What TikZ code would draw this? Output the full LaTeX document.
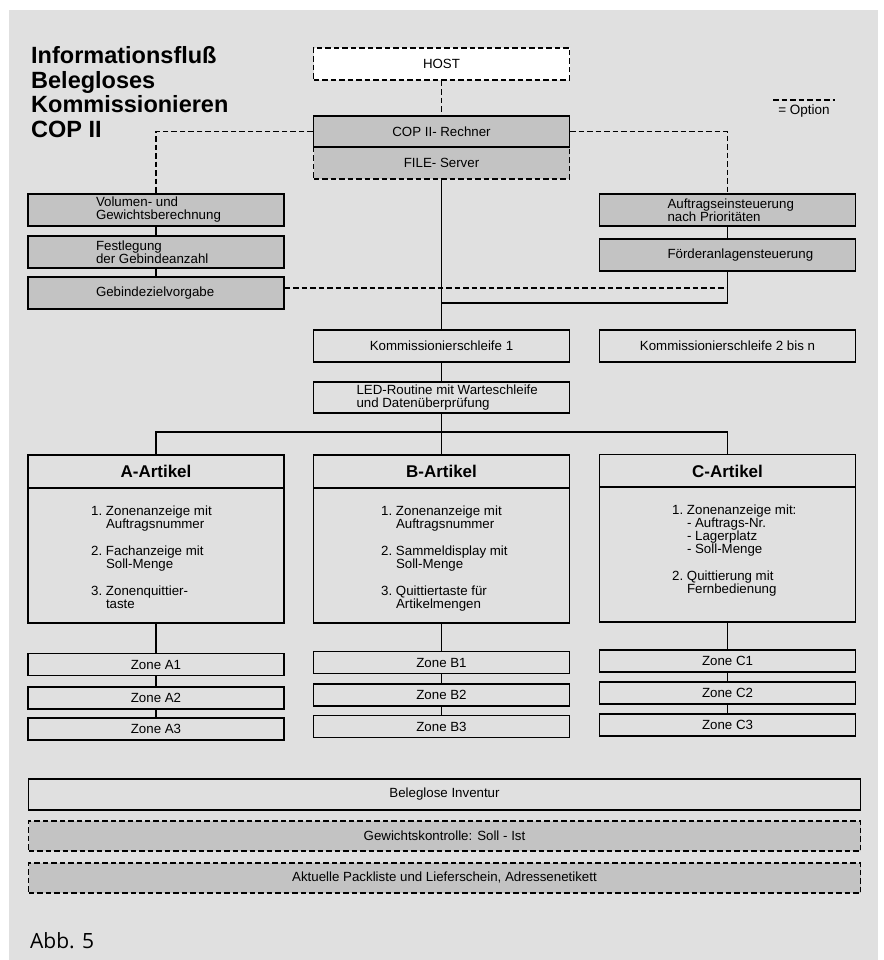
\documentclass[tikz,border=0pt]{standalone}
\usepackage{fontspec}
\setmainfont{Liberation Sans}
\newfontfamily\abbfont{Open Sans}
\usepackage{tikz}
\usetikzlibrary{positioning}
\definecolor{bggray}{HTML}{E0E0E0}
\definecolor{boxgray}{HTML}{C3C3C3}
\tikzset{
    box/.style={draw, line width=1.4pt, minimum width=256pt, minimum height=32pt,
        inner sep=0pt, font=\fontsize{13.3}{13}\selectfont},
    shaded/.style={box, fill=boxgray},
    option/.style={dash pattern=on 5.5pt off 3pt},
    head/.style={box, minimum height=33pt, font=\fontsize{17}{20}\selectfont\bfseries},
    body/.style={box, minimum height=135pt},
    zone/.style={box, minimum height=22pt},
    wide/.style={box, minimum width=832pt, minimum height=30pt},
    link/.style={line width=1.1pt}
}
\newcommand{\padtext}[2]{\parbox{254pt}{\raggedright\leftskip=#1\relax #2}}
\newcommand{\bodytext}[2]{\parbox[c][135pt][t]{254pt}{\raggedright\leftskip=#1\relax\vspace*{18pt}#2}}
\newcommand{\itm}[1]{\leavevmode\llap{#1.\ }}

\begin{document}
\begin{tikzpicture}[x=1pt,y=-1pt]
    \useasboundingbox (0,0) rectangle (883,960);
    \fill[bggray] (9,10) rectangle (878,960);

    % title and legend
    \node[anchor=north west, inner sep=0pt, align=left, font=\fontsize{23.5}{24.5}\selectfont\bfseries]
        at (31,46.5) (title) {Informationsfluß\\Belegloses\\Kommissionieren\\COP II};
    \coordinate (optL) at (773,100);
    \coordinate (optR) at (835,100);
    \node[font=\fontsize{13.5}{14}\selectfont] at (804,111) (optlabel) {= Option};

    % rechner
    \node[box, option, fill=white] at (441.5,64) (host) {HOST};
    \node[shaded, option] at (441.5,163) (file) {FILE- Server};
    \node[shaded, minimum height=31pt] at (441.5,131.5) (rechner) {COP II- Rechner};

    % left and right column
    \node[shaded] at (156,210) (volumen) {\padtext{67pt}{Volumen- und\\Gewichtsberechnung}};
    \node[shaded] at (156,252) (festlegung) {\padtext{67pt}{Festlegung\\der Gebindeanzahl}};
    \node[shaded] at (156,293) (gebinde) {\padtext{67pt}{Gebindezielvorgabe}};
    \node[shaded] at (727.5,210) (auftrag) {\padtext{67pt}{Auftragseinsteuerung\\nach Prioritäten}};
    \node[shaded] at (727.5,255) (foerder) {\padtext{67pt}{Förderanlagensteuerung}};

    % schleifen
    \node[box] at (441.5,346) (kschleife1) {Kommissionierschleife 1};
    \node[box] at (727.5,346) (kschleife2) {Kommissionierschleife 2 bis n};
    \node[box, minimum height=31pt] at (441.5,397.5) (led) {\padtext{42pt}{LED-Routine mit Warteschleife\\und Datenüberprüfung}};

    % artikel
    \node[head] at (156,471.5) (artAhead) {A-Artikel};
    \node[body] at (156,555.5) (artAbody) {\bodytext{77pt}{\itm{1}Zonenanzeige mit\\Auftragsnummer\\[14pt]\itm{2}Fachanzeige mit\\Soll-Menge\\[14pt]\itm{3}Zonenquittier-\\taste}};
    \node[head] at (441.5,471.5) (artBhead) {B-Artikel};
    \node[body] at (441.5,555.5) (artBbody) {\bodytext{81.5pt}{\itm{1}Zonenanzeige mit\\Auftragsnummer\\[14pt]\itm{2}Sammeldisplay mit\\Soll-Menge\\[14pt]\itm{3}Quittiertaste für\\Artikelmengen}};
    \node[head] at (727.5,471) (artChead) {C-Artikel};
    \node[body] at (727.5,554.5) (artCbody) {\bodytext{86.5pt}{\itm{1}Zonenanzeige mit:\\- Auftrags-Nr.\\- Lagerplatz\\- Soll-Menge\\[14pt]\itm{2}Quittierung mit\\Fernbedienung}};

    % zonen
    \node[zone] at (156,664.5) (zoneA1) {Zone A1};
    \node[zone] at (156,698) (zoneA2) {Zone A2};
    \node[zone] at (156,729) (zoneA3) {Zone A3};
    \node[zone] at (441.5,662.5) (zoneB1) {Zone B1};
    \node[zone] at (441.5,695) (zoneB2) {Zone B2};
    \node[zone] at (441.5,726.5) (zoneB3) {Zone B3};
    \node[zone] at (727.5,661) (zoneC1) {Zone C1};
    \node[zone] at (727.5,693) (zoneC2) {Zone C2};
    \node[zone] at (727.5,725) (zoneC3) {Zone C3};

    % unten
    \node[wide, minimum height=31pt] at (444.5,794.5) (inventur) {Beleglose Inventur};
    \node[wide, option, fill=boxgray] at (444.5,836) (gewicht) {Gewichtskontrolle: Soll - Ist};
    \node[wide, option, fill=boxgray] at (444.5,878) (packliste) {Aktuelle Packliste und Lieferschein, Adressenetikett};

    \node[anchor=west, inner sep=0pt, font=\abbfont\fontsize{21}{24}\selectfont] at (30,941) (abb) {Abb. 5};

    % connections
    \coordinate (merge) at (441.5,303);
    \coordinate (split) at (441.5,432);
    \path ([yshift=5pt]gebinde.east) coordinate (gout);
    \draw[link, option] (optL) -- (optR);
    \draw[link, option] (host) -- (rechner);
    \draw[link, option] (rechner.west) -| (volumen.north);
    \draw[link, option] (rechner.east) -| (auftrag.north);
    \draw[link, option] (gout) -- (gout -| foerder.south);
    \draw[link] (foerder.south) |- (merge);
    \draw[link] (artAhead.north) |- (split) -| (artChead.north);
    \path[link, draw]
    (volumen) edge (festlegung)
    (festlegung) edge (gebinde)
    (auftrag) edge (foerder)
    (file) edge (kschleife1)
    (kschleife1) edge (led)
    (led) edge (artBhead)
    (artAbody) edge (zoneA1)
    (zoneA1) edge (zoneA2)
    (zoneA2) edge (zoneA3)
    (artBbody) edge (zoneB1)
    (zoneB1) edge (zoneB2)
    (zoneB2) edge (zoneB3)
    (artCbody) edge (zoneC1)
    (zoneC1) edge (zoneC2)
    (zoneC2) edge (zoneC3)
    ;
\end{tikzpicture}
\end{document}
